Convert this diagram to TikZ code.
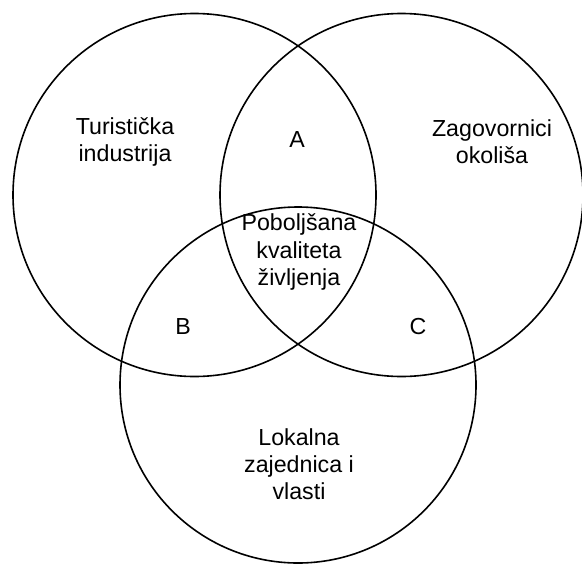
\documentclass[tikz,border=0pt]{standalone}
\usepackage{fontspec}
\setmainfont{Liberation Sans}
\usetikzlibrary{positioning}
\tikzset{
  x=0.5pt, y=-0.5pt,
  every node/.style={font=\fontsize{11.6}{13.6}\selectfont},
}

\begin{document}
\begin{tikzpicture}[set/.style = {draw, circle, line width=0.8pt,
      inner sep=0pt}, txt/.style = {align=center}]

      \useasboundingbox (0,0) rectangle (582,567);

      % --- Sets ---
      \node[set, minimum size=181.5pt] (tur) at (194.5,195) {};
      \node[set, minimum size=181.5pt] (zag) at (401.5,195) {};
      \node[set, minimum size=178pt] (lok) at (298,385) {};

      % --- Labels ---
      \node[txt] (turl) at (125,142) {Turistička\\industrija};
      \node[txt] (zagl) at (492,142) {Zagovornici\\okoliša};
      \node[txt] (lokl) at (299,464) {Lokalna\\zajednica i\\vlasti};
      \node[txt] (mid) at (299,252) {Poboljšana\\kvaliteta\\življenja};

      \node (a) at (297,140) {A};
      \node (b) at (183,327) {B};
      \node (c) at (418,327) {C};

    \end{tikzpicture}
\end{document}
